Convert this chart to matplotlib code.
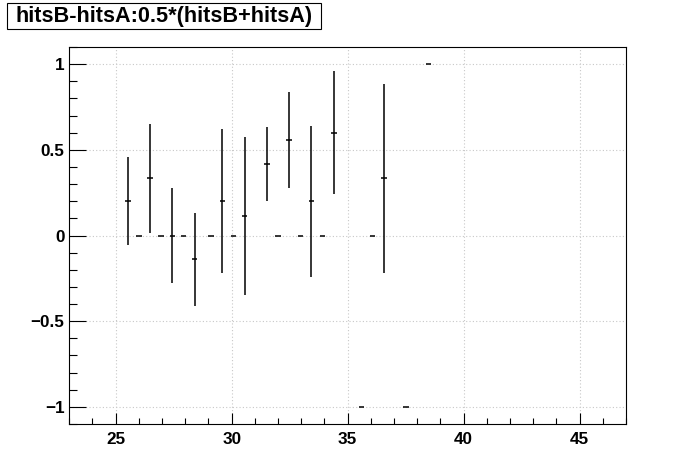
import numpy as np
import matplotlib
matplotlib.use("Agg")
import matplotlib.pyplot as plt
from matplotlib.patches import Rectangle
from matplotlib.ticker import MultipleLocator, FuncFormatter

# Profile data (bin centres of 100 bins over [23, 47], width 0.24)
x_centers = [25.52, 26.00, 26.48, 26.96, 27.44, 27.92, 28.40, 29.12, 29.60, 30.08,
             30.56, 31.52, 32.00, 32.48, 32.96, 33.44, 33.92, 34.40, 35.60, 36.08,
             36.56, 37.52, 38.48]
y_means = [0.20, 0.0, 0.333, 0.0, 0.0, 0.0, -0.14, 0.0, 0.20, 0.0,
           0.112, 0.417, 0.0, 0.56, 0.0, 0.20, 0.0, 0.60, -1.0, 0.0,
           0.333, -1.0, 1.0]
y_errs = [0.257, 0.0, 0.317, 0.0, 0.275, 0.0, 0.27, 0.0, 0.419, 0.0,
          0.46, 0.217, 0.0, 0.28, 0.0, 0.44, 0.0, 0.36, 0.0, 0.0,
          0.55, 0.0, 0.0]
bin_half_width = 0.12
title_text = "hitsB-hitsA:0.5*(hitsB+hitsA)"

W, H = 696, 472
fig = plt.figure(figsize=(W / 100, H / 100), dpi=100)
fig.patch.set_facecolor("white")
ax = fig.add_axes([69.3 / W, 1 - 424 / H, (626 - 69.3) / W, (424 - 47) / H])

ax.errorbar(x_centers, y_means, xerr=bin_half_width, yerr=y_errs, fmt="none",
            ecolor="black", elinewidth=1.1, capsize=0)

ax.set_xlim(23, 47)
ax.set_ylim(-1.1, 1.1)

ax.xaxis.set_major_locator(MultipleLocator(5))
ax.xaxis.set_minor_locator(MultipleLocator(1))
ax.yaxis.set_major_locator(MultipleLocator(0.5))
ax.yaxis.set_minor_locator(MultipleLocator(0.1))

ax.grid(True, which="major", color="#c8c8c8", linestyle=(0, (1, 2)), linewidth=0.8)
ax.set_axisbelow(True)

ax.tick_params(axis="both", which="both", direction="in", top=False, right=False,
               width=0.8, colors="black")
ax.tick_params(axis="x", which="major", length=8.1, pad=6)
ax.tick_params(axis="x", which="minor", length=4.0)
ax.tick_params(axis="y", which="major", length=12.0, pad=3.5)
ax.tick_params(axis="y", which="minor", length=6.0)

def fmt(v, pos=None):
    if abs(v - round(v)) < 1e-9:
        s = "%d" % round(v)
    else:
        s = "%.1f" % v
    return s.replace("-", "\u2212")

ax.xaxis.set_major_formatter(FuncFormatter(fmt))
ax.yaxis.set_major_formatter(FuncFormatter(fmt))
for lab in ax.get_xticklabels() + ax.get_yticklabels():
    lab.set_fontfamily("Liberation Sans")
    lab.set_fontweight("bold")
    lab.set_fontsize(12.3)

for sp in ax.spines.values():
    sp.set_linewidth(0.8)
    sp.set_color("black")

# Title box
bx0, bx1, by0, by1 = 7, 321, 2.7, 29.3
fig.patches.append(Rectangle((bx0 / W, 1 - by1 / H), (bx1 - bx0) / W, (by1 - by0) / H,
                             transform=fig.transFigure, facecolor="white",
                             edgecolor="black", linewidth=0.8))
fig.text((bx0 + bx1) / 2 / W, 1 - (by0 + by1 + 1) / 2 / H, title_text,
         ha="center", va="center", fontfamily="Liberation Sans",
         fontweight="bold", fontsize=15.6)

fig.savefig("out.png", dpi=100)
